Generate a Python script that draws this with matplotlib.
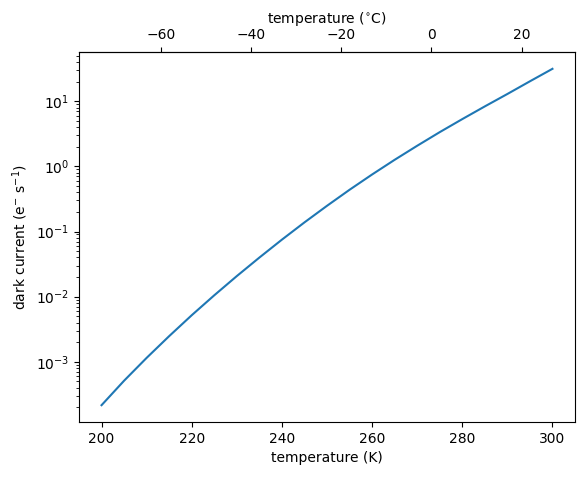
import numpy as np
import matplotlib
matplotlib.use("Agg")
import matplotlib.pyplot as plt

# DATA (every 5 K)

temperature_K = [200, 205, 210, 215, 220, 225, 230, 235, 240, 245, 250,
                 255, 260, 265, 270, 275, 280, 285, 290, 295, 300]

dark_current = [2.16e-4, 5.13e-4, 1.15e-3, 2.48e-3, 5.19e-3, 1.05e-2,
                2.07e-2, 3.98e-2, 7.50e-2, 0.138, 0.248,
                0.437, 0.750, 1.26, 2.07, 3.35, 5.31,
                8.32, 12.9, 20.2, 31.4]

# PLOT

fig = plt.figure(figsize=(5.84, 4.79), dpi=100)
fig.subplots_adjust(left=79/584, right=575/584, top=1-52/479, bottom=1-422/479)
ax = fig.add_subplot(111)

ax.plot(temperature_K, dark_current)

ax.set_yscale("log")
ax.set_xlabel("temperature (K)")
ax.set_ylabel(r"dark current (e$^{-}$ s$^{-1}$)")

# secondary axis in Celsius
secax = ax.secondary_xaxis(
    "top",
    functions=(lambda t: t - 273.15, lambda c: c + 273.15)
)
secax.set_xlabel(r"temperature ($^{\circ}$C)")

fig.savefig("out.png", dpi=100)
